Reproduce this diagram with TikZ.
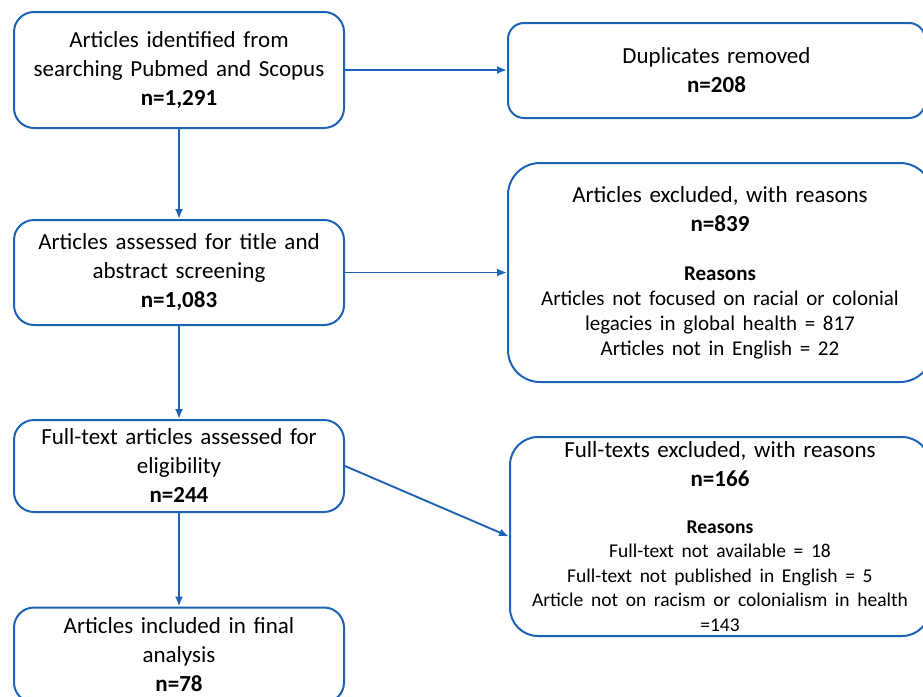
\documentclass[tikz,border=0pt]{standalone}
\usepackage{fontspec}
\setmainfont{Carlito}
\usetikzlibrary{arrows.meta}
\definecolor{flowblue}{RGB}{28,99,183}
\tikzset{
  stage/.style={draw=flowblue, line width=2pt, rounded corners=20pt, align=center,
    inner sep=0pt, font=\fontsize{23}{29}\selectfont},
  reasonbox/.style={stage, rounded corners=32pt},
  flow/.style={draw=flowblue, line width=1.9pt, -{Latex[length=10pt,width=8pt]}},
}
\begin{document}
\begin{tikzpicture}[x=1pt,y=-1pt]
\useasboundingbox (0,0) rectangle (923,696);

% left column
\node[stage, text width=330pt, minimum height=116pt] (found) at (179,70)
  {Articles identified from\\searching Pubmed and Scopus\\\textbf{n=1,291}};
\node[stage, text width=330pt, minimum height=105pt] (screen) at (179,272.5)
  {Articles assessed for title and\\abstract screening\\\textbf{n=1,083}};
\node[stage, text width=330pt, minimum height=92pt] (elig) at (179,466)
  {Full-text articles assessed for\\eligibility\\\textbf{n=244}};
\node[stage, text width=330pt, minimum height=95pt] (final) at (179,655)
  {Articles included in final\\analysis\\\textbf{n=78}};

% right column
\node[stage, rounded corners=16pt, text width=417pt, minimum height=95pt] (dupl) at (716.5,70.5)
  {Duplicates removed\\\textbf{n=208}};
\node[reasonbox, text width=424pt, minimum height=219pt] (excl) at (720,272.5)
  {Articles excluded, with reasons\\\textbf{n=839}\par\vspace{24pt}
   \fontsize{21}{25}\selectfont\textbf{Reasons}\\
   Articles not focused on racial or colonial\\
   legacies in global health = 817\\
   Articles not in English = 22\par\vspace{-8pt}};
\node[reasonbox, rounded corners=28pt, text width=420pt, minimum height=199pt] (fullx) at (720,536.5)
  {Full-texts excluded, with reasons\\\textbf{n=166}\par\vspace{22pt}
   \fontsize{19.5}{24.5}\selectfont\textbf{Reasons}\\
   Full-text not available = 18\\
   Full-text not published in English = 5\\
   Article not on racism or colonialism in health\\
   =143\par\vspace{-4pt}};

% arrows
\draw[flow] (found) -- (screen);
\draw[flow] (screen) -- (elig);
\draw[flow] (elig) -- (final);
\draw[flow] (found.east) -- (found.east -| dupl.west);
\draw[flow] (screen.east) -- (screen.east -| excl.west);
\draw[flow] (elig.east) -- (fullx.west);
\end{tikzpicture}
\end{document}
